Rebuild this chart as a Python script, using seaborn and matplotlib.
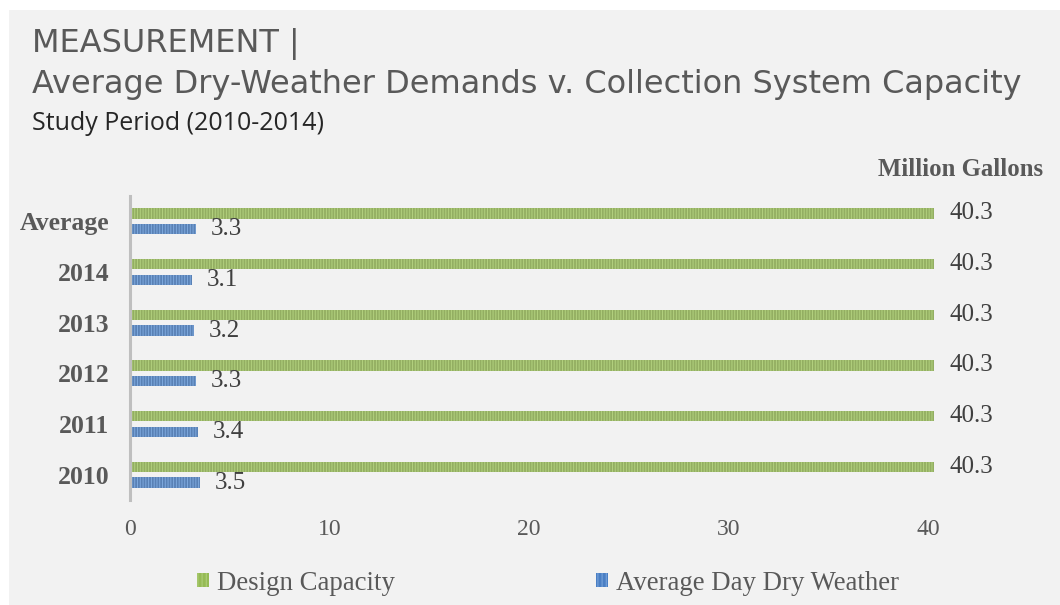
import matplotlib
matplotlib.use("Agg")
import matplotlib.pyplot as plt
import matplotlib.patches as mpatches
import pandas as pd
import seaborn as sns

# Data (million gallons per day)
periods = ["Average", "2014", "2013", "2012", "2011", "2010"]
design_capacity = [40.3, 40.3, 40.3, 40.3, 40.3, 40.3]
avg_day_dry = [3.3, 3.1, 3.2, 3.3, 3.4, 3.5]
series_names = ["Design Capacity", "Average Day Dry Weather"]
x_ticks = [0, 10, 20, 30, 40]

GREEN = "#96bb55"
GREEN_STRIPE = "#b2d17e"
BLUE = "#4a7fc4"
BLUE_STRIPE = "#7ea9de"
TEXT = "#595959"
LABEL = "#404040"
BG = "#f2f2f2"

df = pd.DataFrame({
    "period": periods * 2,
    "value": design_capacity + avg_day_dry,
    "series": [series_names[0]] * len(periods) + [series_names[1]] * len(periods),
})

sns.set_theme(style="white")
plt.rcParams["hatch.linewidth"] = 0.7

W, H = 1060, 605
fig = plt.figure(figsize=(W / 100, H / 100), dpi=100)
fig.patch.set_facecolor("white")
# grey panel with a thin white margin at top and left
fig.patches.append(mpatches.Rectangle((9 / W, 0), 1 - 9 / W, 1 - 10 / H,
                                      transform=fig.transFigure,
                                      facecolor=BG, edgecolor="none", zorder=-10))

ax = fig.add_axes([130 / W, (H - 500) / H, 898 / W, 304 / H])
ax.set_facecolor("none")

sns.barplot(data=df, y="period", x="value", hue="series", orient="h",
            palette=[GREEN, BLUE], width=0.62, gap=0.36, ax=ax,
            legend=False, order=periods, hue_order=series_names)

stripe_cols = [GREEN_STRIPE, BLUE_STRIPE]
for cont, sc in zip(ax.containers, stripe_cols):
    for p in cont:
        p.set_hatch("||||||")
        p.set_edgecolor(sc)
        p.set_linewidth(0)
    labels = ax.bar_label(cont, fmt="%.1f", padding=11, fontsize=18,
                          family="Liberation Serif", color=LABEL)
    for t in labels:
        t.set_y(t.get_position()[1])
        t.set_va("center")

ax.set_xlim(0, 45)
ax.set_ylim(len(periods) - 0.5, -0.5)
ax.set_xticks(x_ticks)
ax.set_xticklabels([str(t) for t in x_ticks], family="Liberation Serif",
                   fontsize=17, color=TEXT)
ax.set_yticks(range(len(periods)))
ax.set_yticklabels(periods, family="Liberation Serif", fontweight="bold",
                   fontsize=18.5, color=TEXT)
ax.tick_params(axis="x", length=0, pad=14)
ax.tick_params(axis="y", length=0, pad=15)
ax.set_xlabel("")
ax.set_ylabel("")
for s in ["top", "right", "bottom"]:
    ax.spines[s].set_visible(False)
ax.spines["left"].set_color("#bfbfbf")
ax.spines["left"].set_linewidth(2.2)
ax.grid(False)

# Titles
fig.text(32 / W, 1 - 44 / H, "MEASUREMENT |", family="DejaVu Sans",
         fontsize=23, color=TEXT, va="center", ha="left")
fig.text(32 / W, 1 - 84 / H,
         "Average Dry-Weather Demands v. Collection System Capacity",
         family="DejaVu Sans", fontsize=23, color=TEXT, va="center", ha="left")
fig.text(32 / W, 1 - 124 / H, "Study Period (2010-2014)", family="Open Sans",
         fontsize=18, color="#262626", va="center", ha="left")
fig.text(1043 / W, 1 - 170 / H, "Million Gallons", family="Liberation Serif",
         fontweight="bold", fontsize=17.8, color=TEXT, va="center", ha="right")

# Legend
handles = [mpatches.Patch(facecolor=GREEN, edgecolor=GREEN_STRIPE, hatch="||||", linewidth=0),
           mpatches.Patch(facecolor=BLUE, edgecolor=BLUE_STRIPE, hatch="||||", linewidth=0)]
fig.legend(handles, series_names, loc="center", bbox_to_anchor=(548 / W, 1 - 583 / H),
           ncol=2, frameon=False, handlelength=0.45, handleheight=0.45,
           handletextpad=0.3, columnspacing=7.5,
           prop={"family": "Liberation Serif", "size": 19.3}, labelcolor=TEXT)

fig.savefig("out.png", dpi=100, facecolor=fig.get_facecolor())
